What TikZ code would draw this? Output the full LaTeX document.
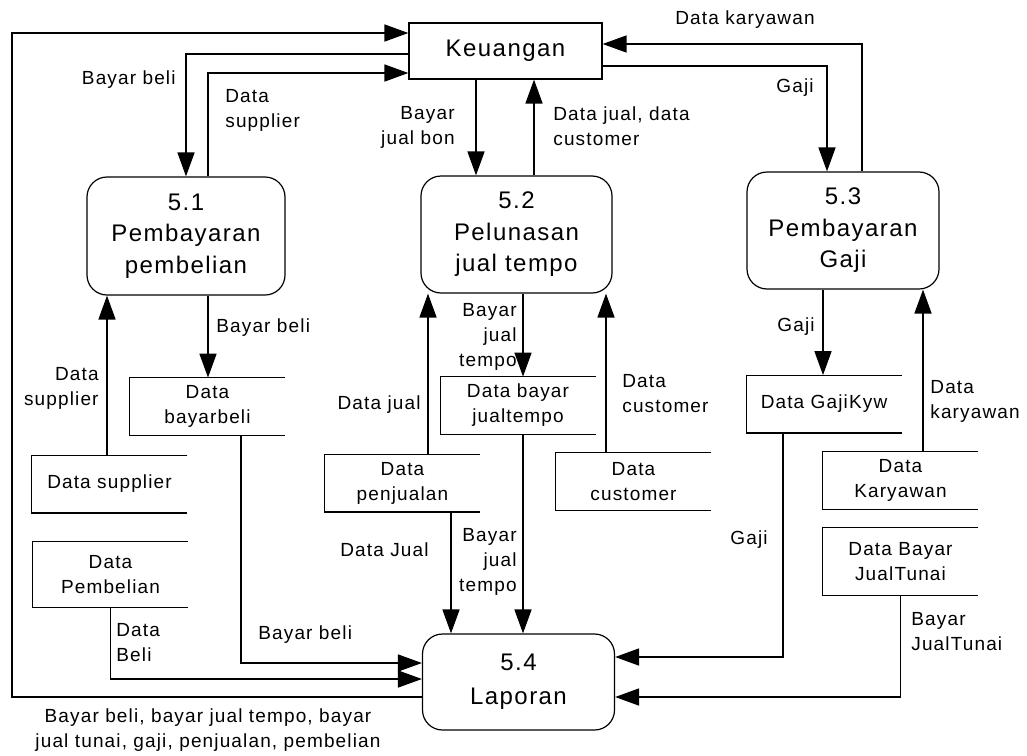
\documentclass[tikz,border=0pt]{standalone}
\usepackage{fontspec}
\setmainfont{Liberation Sans}[LetterSpace=6]
\usetikzlibrary{arrows.meta}

\begin{document}
\begin{tikzpicture}[x=0.5pt,y=-0.5pt,
  proc/.style={draw,line width=0.6pt,rounded corners=10pt,align=center,font=\fontsize{12}{15.75}\selectfont},
  extent/.style={draw,line width=0.6pt,minimum width=96.5pt,minimum height=28pt,font=\fontsize{12}{15.75}\selectfont},
  store/.style={minimum width=77.5pt,minimum height=28.5pt,inner sep=0pt,align=center,font=\fontsize{9.5}{12.5}\selectfont},
  lbl/.style={inner sep=0pt,align=left,font=\fontsize{9.5}{12.5}\selectfont},
  lblr/.style={lbl,align=right},
  flow/.style={line width=0.8pt,-{Triangle[length=12pt,width=8.5pt]}}]
\useasboundingbox (0,0) rectangle (1027,755);
\node[extent] (keu) at (505.5,51) {Keuangan};
\node[proc,minimum width=99pt,minimum height=59pt] (p1) at (186,236) {5.1\\Pembayaran\\pembelian};
\node[proc,minimum width=95.5pt,minimum height=58.5pt] (p2) at (516.5,234.5) {5.2\\Pelunasan\\jual tempo};
\node[proc,minimum width=96pt,minimum height=58.5pt] (p3) at (843,230.5) {5.3\\Pembayaran\\Gaji};
\node[proc,minimum width=96pt,minimum height=48pt,font=\fontsize{12}{17}\selectfont] (lap) at (518.5,682) {5.4\\Laporan};
\node[store] (bb) at (207.5,406.5) {Data\\bayarbeli};
\node[store] (sup) at (109.5,484) {Data supplier};
\node[store,minimum height=32.5pt] (pbl) at (110.5,574.5) {Data\\Pembelian};
\node[store] (pjl) at (402.5,483) {Data\\penjualan};
\node[store] (bjt) at (518,405.5) {Data bayar\\jualtempo};
\node[store] (cst) at (633.5,481.5) {Data\\customer};
\node[store] (gk) at (824,404) {Data GajiKyw};
\node[store] (kyw) at (900.5,480.5) {Data\\Karyawan};
\node[store,minimum height=33.5pt] (bjtn) at (900.5,561.5) {Data Bayar\\JualTunai};
\foreach \s in {bb,sup,pbl,pjl,bjt,cst,gk,kyw,bjtn}
  \draw[line width=0.6pt] (\s.north east) -- (\s.north west) -- (\s.south west) -- (\s.south east);
\draw[flow] ([yshift=-7.5pt]lap.west) -| (12,33) -- ([yshift=9pt]keu.west);
\draw[flow] ([yshift=-1.5pt]keu.west) -| (p1.north);
\draw[flow] ([xshift=11pt]p1.north) |- ([yshift=-11pt]keu.west);
\draw[flow] ([xshift=-14.75pt]keu.south) -- ([xshift=-14.75pt]keu.south |- p2.north);
\draw[flow] ([xshift=14.25pt]keu.south |- p2.north) -- ([xshift=14.25pt]keu.south);
\draw[flow] ([yshift=-7.5pt]keu.east) -| ([xshift=-8pt]p3.north);
\draw[flow] ([xshift=9.5pt]p3.north) |- ([yshift=3.5pt]keu.east);
\draw[flow] ([xshift=11pt]p1.south) -- ([xshift=11pt]p1.south |- bb.north);
\draw[flow] ([xshift=-1.25pt]sup.north) -- ([xshift=-1.25pt]sup.north |- p1.south);
\draw[flow] (pbl.south) |- ([yshift=1.5pt]lap.west);
\draw[flow] ([xshift=16.75pt]bb.south) |- ([yshift=9.5pt]lap.west);
\draw[flow] ([xshift=12.75pt]pjl.north) -- ([xshift=12.75pt]pjl.north |- p2.south);
\draw[flow] ([xshift=24.25pt]pjl.south) -- ([xshift=24.25pt]pjl.south |- lap.north);
\draw[flow] ([xshift=3.25pt]p2.south) -- ([xshift=3.25pt]p2.south |- bjt.north);
\draw[flow] ([xshift=2.5pt]bjt.south) -- ([xshift=2.5pt]bjt.south |- lap.north);
\draw[flow] ([xshift=-13.75pt]cst.north) -- ([xshift=-13.75pt]cst.north |- p2.south);
\draw[flow] ([xshift=-10pt]p3.south) -- ([xshift=-10pt]p3.south |- gk.north);
\draw[flow] ([xshift=-20.5pt]gk.south) |- ([yshift=12.5pt]lap.east);
\draw[flow] ([xshift=11.25pt]kyw.north) -- ([xshift=11.25pt]kyw.north |- p3.south);
\draw[flow] (bjtn.south) |- ([yshift=-7.5pt]lap.east);
\node[lblr,anchor=east] (l1) at (176,80) {Bayar beli};
\node[lbl,anchor=west] (l2) at (225,110) {Data\\supplier};
\node[lblr,anchor=east] (l3) at (455,127) {Bayar\\jual bon};
\node[lbl,anchor=west] (l4) at (553,126) {Data jual, data\\customer};
\node[lblr,anchor=east] (l5) at (814,88) {Gaji};
\node[lbl] (l6) at (745,20) {Data karyawan};
\node[lbl,anchor=west] (l7) at (216,328) {Bayar beli};
\node[lblr,anchor=east] (l8) at (99,388) {Data\\supplier};
\node[lblr,anchor=east] (l9) at (421,405) {Data jual};
\node[lblr,anchor=east] (l10) at (517,337) {Bayar\\jual\\tempo};
\node[lbl,anchor=west] (l11) at (622,394) {Data\\customer};
\node[lblr,anchor=east] (l12) at (429,550) {Data Jual};
\node[lblr,anchor=east] (l13) at (517,562) {Bayar\\jual\\tempo};
\node[lbl,anchor=west] (l14) at (116,643) {Data\\Beli};
\node[lbl,anchor=west] (l15) at (258,635) {Bayar beli};
\node[lbl,align=center] (l16) at (208,730) {Bayar beli, bayar jual tempo, bayar\\jual tunai, gaji, penjualan, pembelian};
\node[lblr,anchor=east] (l17) at (815,327) {Gaji};
\node[lbl,anchor=west] (l18) at (930,401) {Data\\karyawan};
\node[lblr,anchor=east] (l19) at (768,540) {Gaji};
\node[lbl,anchor=west] (l20) at (911,632) {Bayar\\JualTunai};
\end{tikzpicture}
\end{document}
